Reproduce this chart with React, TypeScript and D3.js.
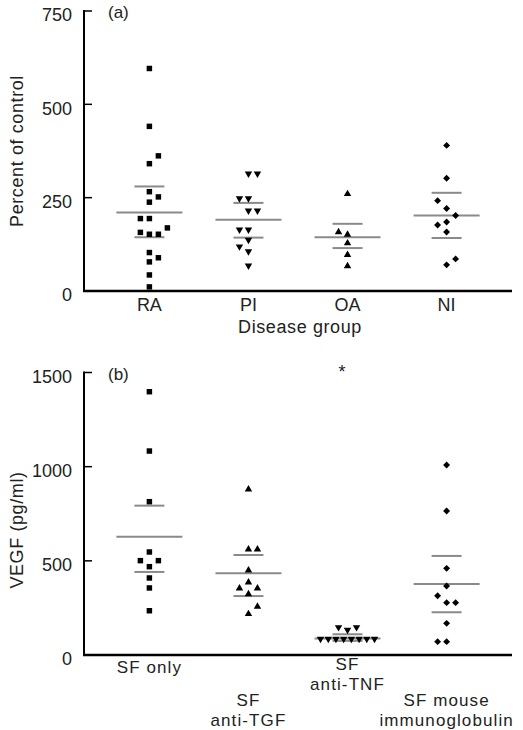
import React from "react";
import * as d3 from "d3";

// ---------- Data ----------
const groupsA = ["RA", "PI", "OA", "NI"];
const ticksA = [0, 250, 500, 750];
const raValues = [596, 441, 362, 341, 266, 252, 238, 194, 194, 169, 157, 152, 152, 103, 89, 78, 43, 11];
const raSlots = [0, 0, 1, 0, 0, 1, 0, -1, 0, 2, -1, 0, 1, 0, 1, 0, 0, 0];
const piValues = [314, 314, 248, 248, 215, 215, 164, 164, 137, 119, 106, 68];
const piSlots = [0, 1, -1, 0, 0, 1, -1, 0, 0, -1, 0, 0];
const oaValues = [260, 158, 151, 128, 97, 67];
const oaSlots = [0, -1, 0, 0, 0, 0];
const niValues = [390, 302, 242, 221, 202, 185, 177, 158, 86, 70];
const niSlots = [0, 0, -1, 0, 1, 0, -1, 0, 1, 0];
// mean, upper (mean+SEM), lower (mean-SEM)
const statsA = [
  [210, 280, 144],
  [191, 236, 143],
  [144, 180, 115],
  [202, 263, 142],
];

const groupsB = ["SF only", "SF anti-TGF", "SF anti-TNF", "SF mouse immunoglobulin"];
const labelLinesB = [["SF only"], ["SF", "anti-TGF"], ["SF", "anti-TNF"], ["SF mouse", "immunoglobulin"]];
const ticksB = [0, 500, 1000, 1500];
const sfValues = [1398, 1083, 814, 547, 501, 501, 469, 409, 356, 235];
const sfSlots = [0, 0, 0, 0, -1, 1, 0, 0, 0, 0];
const tgfValues = [880, 561, 561, 450, 386, 354, 354, 324, 257, 218];
const tgfSlots = [0, 0, 1, 0, 0, -1, 1, 0, 1, 0];
const tnfValues = [147, 147, 133, 85, 85, 85, 85, 85, 85, 85, 85];
const tnfSlots = [-1, 1, 0, -3, -2.14, -1.29, -0.43, 0.43, 1.29, 2.14, 3];
const igValues = [1009, 765, 460, 366, 315, 278, 278, 168, 71, 71];
const igSlots = [0, 0, 0, 0, -1, 0, 1, 0, -1, 0];
const statsB = [
  [628, 793, 441],
  [434, 531, 313],
  [88, 110, 75],
  [377, 526, 227],
];

type Shape = "square" | "down" | "up" | "diamond";

const FONT = "'Liberation Sans', Arial, sans-serif";
const LINE = "#8a8a8a";

function Marker({ shape, x, y }: { shape: Shape; x: number; y: number }) {
  let d = "";
  let rot = 0;
  if (shape === "square") d = d3.symbol().type(d3.symbolSquare).size(30)()!;
  else if (shape === "up") d = d3.symbol().type(d3.symbolTriangle).size(24)()!;
  else if (shape === "down") {
    d = d3.symbol().type(d3.symbolTriangle).size(24)()!;
    rot = 180;
  } else {
    d = d3.symbol().type(d3.symbolSquare).size(24)()!;
    rot = 45;
  }
  return <path d={d} transform={`translate(${x},${y}) rotate(${rot})`} fill="#000" />;
}

type Series = { values: number[]; slots: number[]; shape: Shape };

function Panel({
  groups,
  series,
  stats,
  ticks,
  yMax,
  yTop,
  yBottom,
  tag,
  yTitle,
  yTitleY,
  renderLabels,
}: {
  groups: string[];
  series: Series[];
  stats: number[][];
  ticks: number[];
  yMax: number;
  yTop: number;
  yBottom: number;
  tag: string;
  yTitle: string;
  yTitleY: number;
  renderLabels: (x: d3.ScalePoint<string>) => React.ReactNode;
}) {
  const x0 = 84;
  const x1 = 512;
  const x = d3.scalePoint<string>().domain(groups).range([x0, x1]).padding(0.66);
  const y = d3.scaleLinear().domain([0, yMax]).range([yBottom, yTop]);
  const slotW = 9;
  return (
    <g>
      {/* axes */}
      <line x1={x0} x2={x0} y1={y(yMax) - 1} y2={y(0) + 1} stroke="#000" strokeWidth={2} />
      <line x1={x0 - 1} x2={x1} y1={y(0)} y2={y(0)} stroke="#000" strokeWidth={2.5} />
      {ticks.map((t) => (
        <g key={t}>
          {t !== 0 && <line x1={x0} x2={x0 + 8} y1={y(t)} y2={y(t)} stroke="#000" strokeWidth={1.5} />}
          <text x={72} y={y(t) + 4} dy="0.35em" textAnchor="end" fontSize={18} fontFamily={FONT} fill="#222">
            {t}
          </text>
        </g>
      ))}
      <text x={108} y={y(yMax) + 7} fontSize={17} fontFamily={FONT} fill="#222">
        {tag}
      </text>
      <text
        transform={`translate(23,${yTitleY}) rotate(-90)`}
        textAnchor="middle"
        fontSize={18}
        fontFamily={FONT}
        letterSpacing={0.6}
        fill="#222"
      >
        {yTitle}
      </text>
      {/* stat lines */}
      {stats.map((s, i) => {
        const cx = x(groups[i])!;
        return (
          <g key={i}>
            <line x1={cx - 33} x2={cx + 33} y1={y(s[0])} y2={y(s[0])} stroke={LINE} strokeWidth={2} />
            <line x1={cx - 15} x2={cx + 15} y1={y(s[1])} y2={y(s[1])} stroke={LINE} strokeWidth={2} />
            <line x1={cx - 15} x2={cx + 15} y1={y(s[2])} y2={y(s[2])} stroke={LINE} strokeWidth={2} />
          </g>
        );
      })}
      {/* points */}
      {series.map((ser, i) => {
        const cx = x(groups[i])!;
        return ser.values.map((v, j) => (
          <Marker key={`${i}-${j}`} shape={ser.shape} x={cx + ser.slots[j] * slotW} y={y(v)} />
        ));
      })}
      {renderLabels(x)}
    </g>
  );
}

export default function App() {
  const seriesA: Series[] = [
    { values: raValues, slots: raSlots, shape: "square" },
    { values: piValues, slots: piSlots, shape: "down" },
    { values: oaValues, slots: oaSlots, shape: "up" },
    { values: niValues, slots: niSlots, shape: "diamond" },
  ];
  const seriesB: Series[] = [
    { values: sfValues, slots: sfSlots, shape: "square" },
    { values: tgfValues, slots: tgfSlots, shape: "up" },
    { values: tnfValues, slots: tnfSlots, shape: "down" },
    { values: igValues, slots: igSlots, shape: "diamond" },
  ];
  const firstBaselineB = [673, 706, 670, 706];
  return (
    <svg
      width={523}
      height={730}
      style={{ position: "absolute", left: 0, top: 0, background: "#fff" }}
    >
      <rect width={523} height={730} fill="#fff" />
      <Panel
        groups={groupsA}
        series={seriesA}
        stats={statsA}
        ticks={ticksA}
        yMax={750}
        yTop={11}
        yBottom={291}
        tag="(a)"
        yTitle="Percent of control"
        yTitleY={151}
        renderLabels={(x) => (
          <g>
            {groupsA.map((g) => (
              <text key={g} x={x(g)} y={311} textAnchor="middle" fontSize={18} fontFamily={FONT} fill="#222">
                {g}
              </text>
            ))}
            <text x={300} y={333} textAnchor="middle" fontSize={18} fontFamily={FONT} letterSpacing={0.6} fill="#222">
              Disease group
            </text>
          </g>
        )}
      />
      <Panel
        groups={groupsB}
        series={seriesB}
        stats={statsB}
        ticks={ticksB}
        yMax={1500}
        yTop={372.5}
        yBottom={655}
        tag="(b)"
        yTitle="VEGF (pg/ml)"
        yTitleY={530}
        renderLabels={(x) => (
          <g>
            {groupsB.map((g, i) => (
              <text
                key={g}
                y={firstBaselineB[i]}
                textAnchor="middle"
                fontSize={17}
                fontFamily={FONT}
                letterSpacing={1.1}
                fill="#222"
              >
                {labelLinesB[i].map((ln, k) => (
                  <tspan key={k} x={x(g)} dy={k === 0 ? 0 : 20}>
                    {ln}
                  </tspan>
                ))}
              </text>
            ))}
            <text x={342} y={378} textAnchor="middle" fontSize={18} fontFamily={FONT} fill="#222">
              *
            </text>
          </g>
        )}
      />
    </svg>
  );
}
